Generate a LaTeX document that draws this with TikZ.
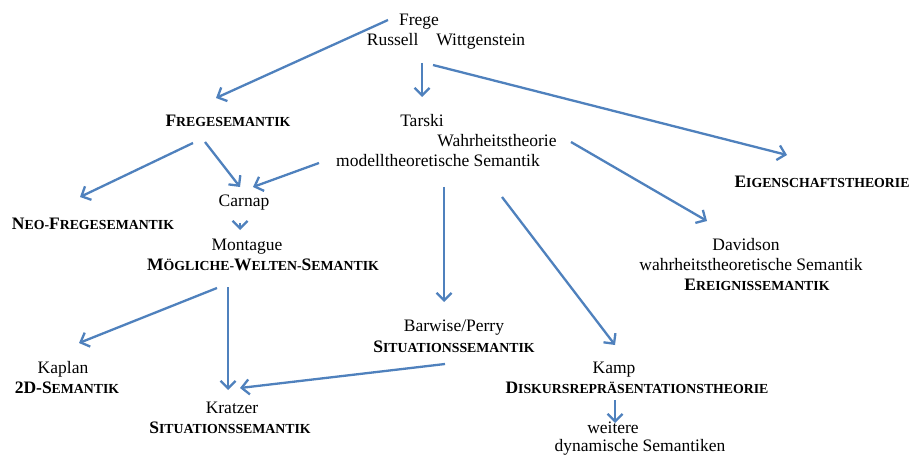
\documentclass[tikz,border=0pt]{standalone}
\usepackage{fontspec}
\setmainfont{Liberation Serif}
\usetikzlibrary{arrows.meta,calc}
\definecolor{arrblue}{RGB}{79,129,189}
\newcommand\smc[1]{{\fontsize{13.8}{14}\selectfont #1}}
\tikzset{
  lbl/.style={inner sep=0pt, anchor=base, font=\fontsize{17.5}{20}\selectfont},
  arr/.style={draw=arrblue, line width=2.3pt, -{Straight Barb[length=7.5pt,width=15pt,line width=2.3pt]}}
}
\begin{document}
\begin{tikzpicture}[x=1pt,y=-1pt]
\fill[white] (0,0) rectangle (912,457);
\useasboundingbox (0,0) rectangle (912,457);
% nodes
\node[lbl] (frege)   at (419,26)  {Frege};
\node[lbl] (russ)    at (446,46)  {Russell\hspace{18pt}Wittgenstein};
\node[lbl] (fsem)    at (228,127) {\textbf{F\smc{REGESEMANTIK}}};
\node[lbl] (tarski)  at (422,127) {Tarski};
\node[lbl] (wahr)    at (497,147) {Wahrheitstheorie};
\node[lbl] (modell)  at (438,167) {modelltheoretische Semantik};
\node[lbl] (eig)     at (822,187) {\textbf{E\smc{IGENSCHAFTSTHEORIE}}};
\node[lbl] (neo)     at (93,229)  {\textbf{N\smc{EO-}F\smc{REGESEMANTIK}}};
\node[lbl] (carnap)  at (244,207) {Carnap};
\node[lbl] (montague) at (247,250) {Montague};
\node[lbl] (mog)     at (263,270) {\textbf{M\smc{ÖGLICHE-}W\smc{ELTEN-}S\smc{EMANTIK}}};
\node[lbl] (david)   at (746,250) {Davidson};
\node[lbl] (wts)     at (751,270) {wahrheitstheoretische Semantik};
\node[lbl] (ereig)   at (757,290) {\textbf{E\smc{REIGNISSEMANTIK}}};
\node[lbl] (barwise) at (454,331) {Barwise/Perry};
\node[lbl] (sitb)    at (454,352) {\textbf{S\smc{ITUATIONSSEMANTIK}}};
\node[lbl] (kaplan)  at (63,373)  {Kaplan};
\node[lbl] (twod)    at (67,393)  {\textbf{2D-S\smc{EMANTIK}}};
\node[lbl] (kratzer) at (232,413) {Kratzer};
\node[lbl] (sitk)    at (230,433) {\textbf{S\smc{ITUATIONSSEMANTIK}}};
\node[lbl] (kamp)    at (614,373) {Kamp};
\node[lbl] (drt)     at (637,393) {\textbf{D\smc{ISKURSREPRÄSENTATIONSTHEORIE}}};
\node[lbl] (weitere) at (613,433) {weitere};
\node[lbl] (dyn)     at (640,451) {dynamische Semantiken};
% connectors
\draw[arr] ($(frege.base)+(-31,-6)$) -- ($(fsem.base)+(-12,-29)$);
\draw[arr] ($(russ.base)+(-24,17)$) -- ($(tarski.base)+(0,-30)$);
\draw[arr] ($(russ.base)+(-13,19)$) -- ($(eig.base)+(-35,-32)$);
\draw[arr] ($(fsem.base)+(-35,16)$) -- ($(neo.base)+(-13,-32)$);
\draw[arr] ($(fsem.base)+(-23,15)$) -- ($(carnap.base)+(-4,-20)$);
\draw[arr] ($(modell.base)+(-119,-4)$) -- ($(carnap.base)+(9,-20)$);
\draw[arr] ($(carnap.base)+(-4,16)$) -- ($(montague.base)+(-7,-20)$);
\draw[arr] ($(modell.base)+(6,20)$) -- ($(barwise.base)+(-10,-29)$);
\draw[arr] ($(modell.base)+(64,30)$) -- ($(kamp.base)+(1,-28)$);
\draw[arr] ($(wahr.base)+(74,-5)$) -- ($(david.base)+(-39,-29)$);
\draw[arr] ($(mog.base)+(-46,18)$) -- ($(kaplan.base)+(16,-30)$);
\draw[arr] ($(mog.base)+(-35,17)$) -- ($(kratzer.base)+(-4,-23)$);
\draw[arr] ($(sitb.base)+(-9,12)$) -- ($(kratzer.base)+(8,-25)$);
\draw[arr] ($(drt.base)+(-22,7)$) -- ($(weitere.base)+(2,-10)$);
\end{tikzpicture}
\end{document}
